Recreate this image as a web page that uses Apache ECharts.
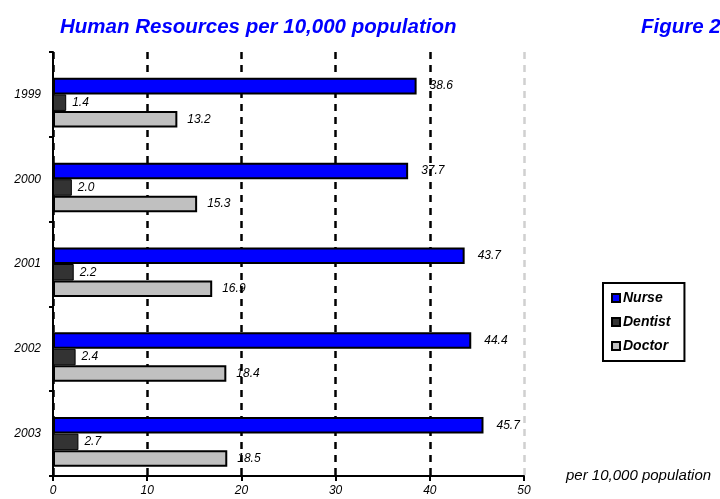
<!DOCTYPE html>
<html>
<head>
<meta charset="utf-8">
<script src="https://cdn.jsdelivr.net/npm/echarts@6/dist/echarts.min.js"></script>
<style>
  html, body { margin: 0; padding: 0; background: #fff; }
  #chart { width: 720px; height: 499px; }
</style>
</head>
<body>
<div id="chart"></div>
<script>
// Health workforce per 10,000 population, by year
const years = ['1999', '2000', '2001', '2002', '2003'];
const nurse = [38.6, 37.7, 43.7, 44.4, 45.7];
const dentist = [1.4, 2.0, 2.2, 2.4, 2.7];
const doctor = [13.2, 15.3, 16.9, 18.4, 18.5];
const xTicks = [0, 10, 20, 30, 40, 50];

const FONT = 'Liberation Sans, Arial, sans-serif';
const GAP = '22%';

const chart = echarts.init(document.getElementById('chart'), null, { renderer: 'canvas' });

function labelCfg(dist) {
  return {
    show: true,
    position: 'right',
    distance: dist,
    fontFamily: FONT,
    fontStyle: 'italic',
    fontSize: 12,
    color: '#000',
    formatter: p => p.value.toFixed(1)
  };
}

chart.setOption({
  animation: false,
  backgroundColor: '#fff',
  title: [
    {
      text: 'Human Resources per 10,000 population',
      left: 55, top: 12,
      textStyle: { fontFamily: FONT, fontStyle: 'italic', fontWeight: 'bold', fontSize: 20.5, color: '#0000FF' }
    },
    {
      text: 'Figure 2',
      left: 636, top: 12,
      textStyle: { fontFamily: FONT, fontStyle: 'italic', fontWeight: 'bold', fontSize: 20.5, color: '#0000FF' }
    },
    {
      text: 'per 10,000 population',
      left: 561, top: 463,
      textStyle: { fontFamily: FONT, fontStyle: 'italic', fontWeight: 'normal', fontSize: 15, color: '#000' }
    }
  ],
  legend: {
    data: ['Nurse', 'Dentist', 'Doctor'],
    orient: 'vertical',
    left: 603, top: 283,
    padding: [8, 14, 8, 8],
    borderColor: '#000',
    borderWidth: 2,
    icon: 'rect',
    itemWidth: 8, itemHeight: 8,
    itemGap: 10,
    textStyle: { fontFamily: FONT, fontStyle: 'italic', fontWeight: 'bold', fontSize: 14, color: '#000', padding: [0, 0, 0, -2] }
  },
  grid: { left: 53, right: 196, top: 52, bottom: 23, containLabel: false },
  xAxis: {
    type: 'value',
    min: xTicks[0], max: xTicks[xTicks.length - 1], interval: 10,
    axisLine: { show: true, lineStyle: { color: '#000', width: 2 } },
    axisTick: { show: true, inside: false, length: 5, lineStyle: { color: '#000', width: 2 } },
    axisLabel: { fontFamily: FONT, fontStyle: 'italic', fontSize: 12, color: '#000', margin: 9 },
    splitLine: {
      show: true,
      lineStyle: {
        color: ['#000', '#000', '#000', '#000', '#000', '#d0d0d0'],
        width: 2.5,
        type: [7, 6]
      }
    }
  },
  yAxis: {
    type: 'category',
    inverse: true,
    data: years,
    axisLine: { show: true, lineStyle: { color: '#000', width: 2 } },
    axisTick: { show: true, inside: false, length: 4, lineStyle: { color: '#000', width: 2 } },
    axisLabel: { fontFamily: FONT, fontStyle: 'italic', fontSize: 12, color: '#000', margin: 12 },
    splitLine: { show: false }
  },
  series: [
    {
      // empty slot that keeps each year's group sitting low in its band
      name: 'spacer', type: 'bar', data: [], barGap: '0%', barCategoryGap: GAP, silent: true
    },
    {
      name: 'Nurse', type: 'bar', data: nurse, barGap: '0%', barCategoryGap: GAP,
      itemStyle: { color: '#0000FF', borderColor: '#000', borderWidth: 2 },
      label: labelCfg(13)
    },
    {
      name: 'Dentist', type: 'bar', data: dentist, barGap: '0%', barCategoryGap: GAP,
      itemStyle: { color: '#333333', borderColor: '#000', borderWidth: 1 },
      label: labelCfg(6)
    },
    {
      name: 'Doctor', type: 'bar', data: doctor, barGap: '0%', barCategoryGap: GAP,
      itemStyle: { color: '#C0C0C0', borderColor: '#000', borderWidth: 2 },
      label: labelCfg(10)
    }
  ]
});
</script>
</body>
</html>
